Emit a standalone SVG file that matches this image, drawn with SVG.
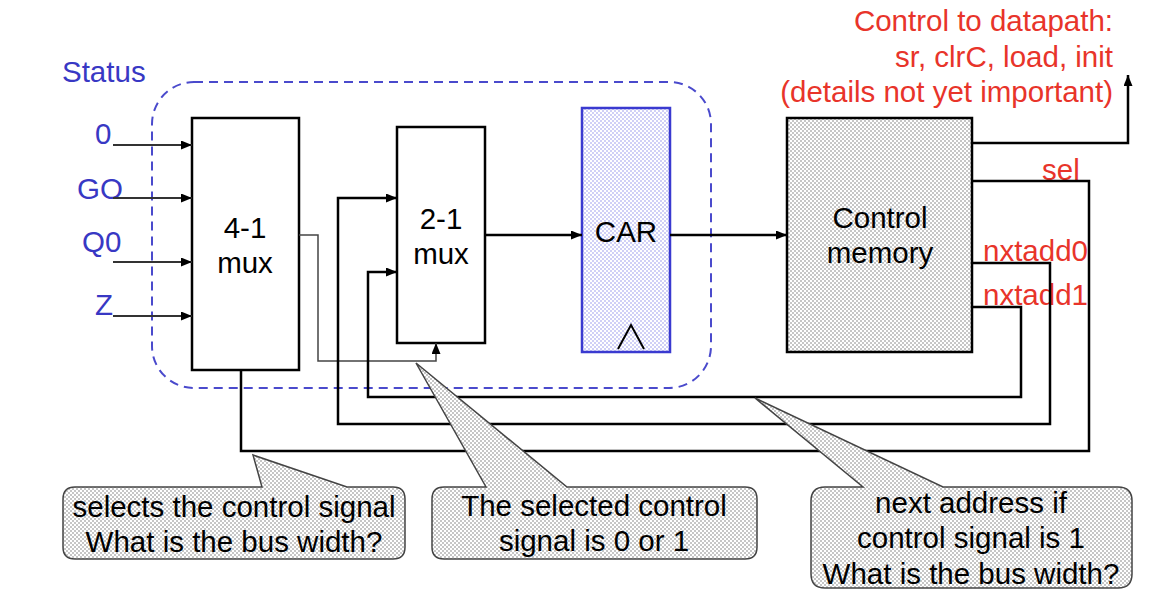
<svg xmlns="http://www.w3.org/2000/svg" width="1170" height="614" viewBox="0 0 1170 614">
<defs>
<pattern id="gray" width="4" height="4" patternUnits="userSpaceOnUse">
<rect width="4" height="4" fill="#ffffff"/>
<rect width="2" height="2" fill="#c6c6c6"/>
<rect x="2" y="2" width="2" height="2" fill="#c6c6c6"/>
</pattern>
<pattern id="blue" width="4" height="4" patternUnits="userSpaceOnUse">
<rect width="4" height="4" fill="#ffffff"/>
<rect width="2" height="2" fill="#d0d0f6"/>
<rect x="2" y="2" width="2" height="2" fill="#d0d0f6"/>
</pattern>
<marker id="arr" markerUnits="userSpaceOnUse" markerWidth="11" markerHeight="9" refX="11" refY="4.5" orient="auto">
<path d="M0,0 L11,4.5 L0,9 z" fill="#000"/>
</marker>
</defs>
<style>
text{font-family:"Liberation Sans",Arial,sans-serif;font-size:29.5px;}
.blk{fill:#000;}
.blu{fill:#3838c4;}
.red{fill:#e8342a;}
.box{fill:#fff;stroke:#000;stroke-width:2.5;}
.w{fill:none;stroke:#000;stroke-width:2.5;}
.thin{fill:none;stroke:#444;stroke-width:1.5;}
.in{fill:none;stroke:#333;stroke-width:1.8;}
.bub{fill:url(#gray);stroke:#444;stroke-width:1.5;}
</style>

<g id="boundary">
<rect x="152" y="82" width="559" height="306" rx="42" fill="none" stroke="#4a4acc" stroke-width="2" stroke-dasharray="9,6"/>
</g>

<g id="status-labels">
<text class="blu" x="62" y="82">Status</text>
<text class="blu" x="95" y="144">0</text>
<text class="blu" x="77" y="199">GO</text>
<text class="blu" x="82" y="252">Q0</text>
<text class="blu" x="95" y="315">Z</text>
</g>

<g id="mux41">
<rect class="box" x="192" y="118" width="107" height="252"/>
<text class="blk" x="245" y="238" text-anchor="middle">4-1</text>
<text class="blk" x="245" y="273" text-anchor="middle">mux</text>
</g>

<g id="mux21">
<rect class="box" x="397" y="127" width="88" height="216"/>
<text class="blk" x="441" y="229" text-anchor="middle">2-1</text>
<text class="blk" x="441" y="264" text-anchor="middle">mux</text>
</g>

<g id="car">
<rect x="582" y="108" width="88" height="244" fill="url(#blue)" stroke="#3a3ad0" stroke-width="2.5"/>
<path d="M618,349 L631,325 L644,349" fill="none" stroke="#000" stroke-width="2"/>
<text class="blk" x="626" y="242" text-anchor="middle">CAR</text>
</g>

<g id="control-memory">
<rect x="787" y="118" width="185" height="234" fill="url(#gray)" stroke="#000" stroke-width="2.5"/>
<text class="blk" x="880" y="228" text-anchor="middle">Control</text>
<text class="blk" x="880" y="263" text-anchor="middle">memory</text>
</g>

<g id="datapath-label">
<text class="red" x="1113" y="31" text-anchor="end">Control to datapath:</text>
<text class="red" x="1113" y="67" text-anchor="end">sr, clrC, load, init</text>
<text class="red" x="1113" y="102" text-anchor="end">(details not yet important)</text>
</g>

<g id="signal-labels">
<text class="red" x="1042" y="180">sel</text>
<text class="red" x="983" y="261">nxtadd0</text>
<text class="red" x="983" y="305">nxtadd1</text>
</g>

<g id="connectors">
<line class="in" x1="113" y1="145" x2="192" y2="145" marker-end="url(#arr)"/>
<line class="in" x1="113" y1="198" x2="192" y2="198" marker-end="url(#arr)"/>
<line class="in" x1="113" y1="262" x2="192" y2="262" marker-end="url(#arr)"/>
<line class="in" x1="113" y1="316" x2="192" y2="316" marker-end="url(#arr)"/>
<path class="thin" d="M299,235 H318 V361 H436 V343" marker-end="url(#arr)"/>
<line class="w" x1="485" y1="235" x2="582" y2="235" marker-end="url(#arr)"/>
<line class="w" x1="670" y1="235" x2="787" y2="235" marker-end="url(#arr)"/>
<path class="w" d="M972,143 H1128 V75" marker-end="url(#arr)"/>
<path class="w" d="M972,181 H1089 V451 H241 V370"/>
<path class="w" d="M972,263 H1050 V424 H338 V198 H397" marker-end="url(#arr)"/>
<path class="w" d="M972,307 H1021 V397 H368 V272 H397" marker-end="url(#arr)"/>
</g>

<g id="bubble-select">
<path class="bub" d="M75,487 H262 L253,455 L347,487 H393 Q405,487 405,499 V547 Q405,559 393,559 H75 Q63,559 63,547 V499 Q63,487 75,487 Z"/>
<text class="blk" x="234" y="517" text-anchor="middle">selects the control signal</text>
<text class="blk" x="234" y="552" text-anchor="middle">What is the bus width?</text>
</g>

<g id="bubble-selected">
<path class="bub" d="M444,487 H486 L416,363 L567,487 H745 Q757,487 757,499 V547 Q757,559 745,559 H444 Q432,559 432,547 V499 Q432,487 444,487 Z"/>
<text class="blk" x="594" y="516" text-anchor="middle">The selected control</text>
<text class="blk" x="594" y="551" text-anchor="middle">signal is 0 or 1</text>
</g>

<g id="bubble-next">
<path class="bub" d="M825,487 H863 L755,398 L943,487 H1118 Q1132,487 1132,501 V574 Q1132,588 1118,588 H825 Q811,588 811,574 V501 Q811,487 825,487 Z"/>
<text class="blk" x="971" y="513" text-anchor="middle">next address if</text>
<text class="blk" x="971" y="548" text-anchor="middle">control signal is 1</text>
<text class="blk" x="971" y="584" text-anchor="middle">What is the bus width?</text>
</g>
</svg>
